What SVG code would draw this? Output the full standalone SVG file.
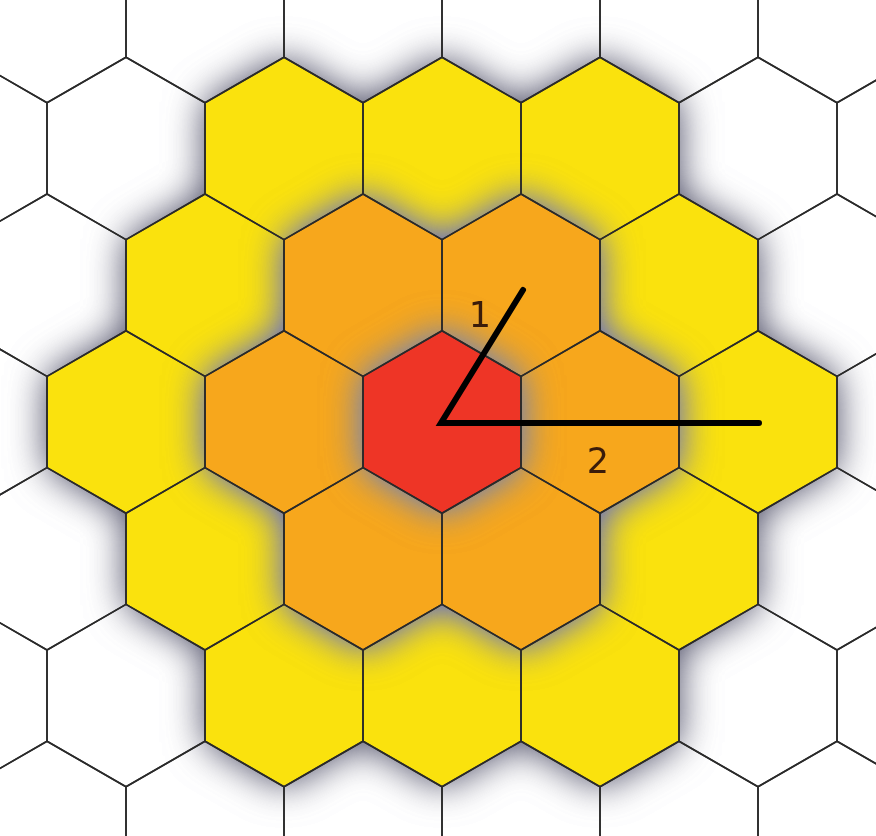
<svg xmlns="http://www.w3.org/2000/svg" xmlns:xlink="http://www.w3.org/1999/xlink" width="876" height="836" viewBox="0 0 876 836">
<style>
.cell{fill:none;stroke:#2a2a2a;stroke-width:1.6;stroke-linejoin:round}
.y{fill:#fae20c}
.o{fill:#f7a71e}
.r{fill:#ee3526}
.arm{stroke:#000;stroke-width:6;stroke-linecap:round;stroke-linejoin:miter;fill:none}
.lbl{font-family:"DejaVu Sans",sans-serif;font-size:35px;fill:#3a1c0a;text-anchor:middle}
</style>
<defs>
<polygon id="hx" points="0,-91.2 79,-45.6 79,45.6 0,91.2 -79,45.6 -79,-45.6"/>
<filter id="sh" filterUnits="userSpaceOnUse" x="0" y="0" width="876" height="836">
<feGaussianBlur in="SourceAlpha" stdDeviation="19"/>
<feColorMatrix values="0 0 0 0 0.25  0 0 0 0 0.25  0 0 0 0 0.32  0 0 0 1.6 0"/>
<feMerge><feMergeNode/><feMergeNode in="SourceGraphic"/></feMerge>
</filter>
</defs>
<rect width="876" height="836" fill="#fff"/>
<g id="ring2" class="y" filter="url(#sh)">
<use href="#hx" x="284" y="148.4"/><use href="#hx" x="442" y="148.4"/><use href="#hx" x="600" y="148.4"/>
<use href="#hx" x="205" y="285.2"/><use href="#hx" x="363" y="285.2"/><use href="#hx" x="521" y="285.2"/><use href="#hx" x="679" y="285.2"/>
<use href="#hx" x="126" y="422"/><use href="#hx" x="284" y="422"/><use href="#hx" x="442" y="422"/><use href="#hx" x="600" y="422"/><use href="#hx" x="758" y="422"/>
<use href="#hx" x="205" y="558.8"/><use href="#hx" x="363" y="558.8"/><use href="#hx" x="521" y="558.8"/><use href="#hx" x="679" y="558.8"/>
<use href="#hx" x="284" y="695.6"/><use href="#hx" x="442" y="695.6"/><use href="#hx" x="600" y="695.6"/>
</g>
<g id="ring1" class="o" filter="url(#sh)">
<use href="#hx" x="363" y="285.2"/><use href="#hx" x="521" y="285.2"/>
<use href="#hx" x="284" y="422"/><use href="#hx" x="442" y="422"/><use href="#hx" x="600" y="422"/>
<use href="#hx" x="363" y="558.8"/><use href="#hx" x="521" y="558.8"/>
</g>
<g id="center" class="r" filter="url(#sh)">
<use href="#hx" x="442" y="422"/>
</g>
<g id="grid" class="cell">
<use href="#hx" x="47" y="11.6"/><use href="#hx" x="205" y="11.6"/><use href="#hx" x="363" y="11.6"/><use href="#hx" x="521" y="11.6"/><use href="#hx" x="679" y="11.6"/><use href="#hx" x="837" y="11.6"/>
<use href="#hx" x="-32" y="148.4"/><use href="#hx" x="126" y="148.4"/><use href="#hx" x="284" y="148.4"/><use href="#hx" x="442" y="148.4"/><use href="#hx" x="600" y="148.4"/><use href="#hx" x="758" y="148.4"/><use href="#hx" x="916" y="148.4"/>
<use href="#hx" x="47" y="285.2"/><use href="#hx" x="205" y="285.2"/><use href="#hx" x="363" y="285.2"/><use href="#hx" x="521" y="285.2"/><use href="#hx" x="679" y="285.2"/><use href="#hx" x="837" y="285.2"/>
<use href="#hx" x="-32" y="422"/><use href="#hx" x="126" y="422"/><use href="#hx" x="284" y="422"/><use href="#hx" x="442" y="422"/><use href="#hx" x="600" y="422"/><use href="#hx" x="758" y="422"/><use href="#hx" x="916" y="422"/>
<use href="#hx" x="47" y="558.8"/><use href="#hx" x="205" y="558.8"/><use href="#hx" x="363" y="558.8"/><use href="#hx" x="521" y="558.8"/><use href="#hx" x="679" y="558.8"/><use href="#hx" x="837" y="558.8"/>
<use href="#hx" x="-32" y="695.6"/><use href="#hx" x="126" y="695.6"/><use href="#hx" x="284" y="695.6"/><use href="#hx" x="442" y="695.6"/><use href="#hx" x="600" y="695.6"/><use href="#hx" x="758" y="695.6"/><use href="#hx" x="916" y="695.6"/>
<use href="#hx" x="47" y="832.4"/><use href="#hx" x="205" y="832.4"/><use href="#hx" x="363" y="832.4"/><use href="#hx" x="521" y="832.4"/><use href="#hx" x="679" y="832.4"/><use href="#hx" x="837" y="832.4"/>
</g>
<g id="connectors">
<polyline class="arm" points="523,290 441,423 759,423"/>
</g>
<g id="labels">
<text class="lbl" x="480" y="327">1</text>
<text class="lbl" x="598" y="473">2</text>
</g>
</svg>
